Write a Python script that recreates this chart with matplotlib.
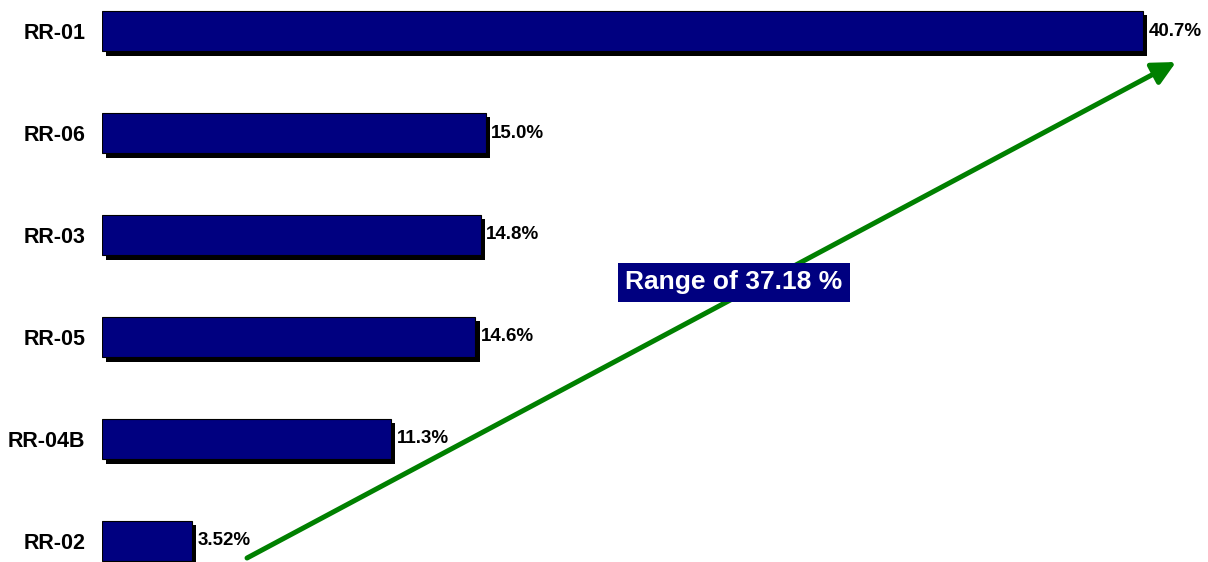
import matplotlib
matplotlib.use("Agg")
import matplotlib.pyplot as plt
import matplotlib.patheffects as pe

plt.rcParams['font.family'] = ['Liberation Sans', 'DejaVu Sans']

# data, bottom to top
labels = ['RR-02', 'RR-04B', 'RR-05', 'RR-03', 'RR-06', 'RR-01']
values = [3.52, 11.3, 14.6, 14.8, 15.0, 40.7]
value_text = ['3.52%', '11.3%', '14.6%', '14.8%', '15.0%', '40.7%']
range_text = 'Range of 37.18 %'

fig = plt.figure(figsize=(12.08, 5.62), dpi=100)
ax = fig.add_axes([102 / 1208, 0, 1106 / 1208, 1])

pos = list(range(len(labels)))
bars = ax.barh(pos, values, height=0.4, color='#000080', edgecolor='black', linewidth=0.8)
for b in bars:
    b.set_path_effects([pe.SimplePatchShadow(offset=(3, -3), shadow_rgbFace='black', alpha=1.0),
                        pe.Normal()])

for p, v, t in zip(pos, values, value_text):
    ax.annotate(t, (v, p), xytext=(4, 0), textcoords='offset points',
                ha='left', va='center', fontsize=13.5, fontweight='bold')

ax.set_xlim(0, 43.24)
ax.set_ylim(-0.206, 5.304)
ax.set_yticks(pos)
ax.set_yticklabels(labels, fontsize=15.5, fontweight='bold')
ax.tick_params(axis='y', length=0, pad=12)
ax.set_xticks([])
for s in ax.spines.values():
    s.set_visible(False)

# green arrow from lowest to highest
ax.annotate('', xy=(41.99, 4.696), xytext=(5.67, -0.167),
            arrowprops=dict(arrowstyle='-|>,head_length=1.4,head_width=0.7',
                            color='#008000', lw=3.6, shrinkA=0, shrinkB=0))

ax.text(0.571, 0.498, range_text, transform=ax.transAxes, ha='center', va='center',
        color='white', fontsize=19, fontweight='bold',
        bbox=dict(boxstyle='square,pad=0.28', facecolor='#000080', edgecolor='none'))

fig.savefig('out.png', dpi=100)
